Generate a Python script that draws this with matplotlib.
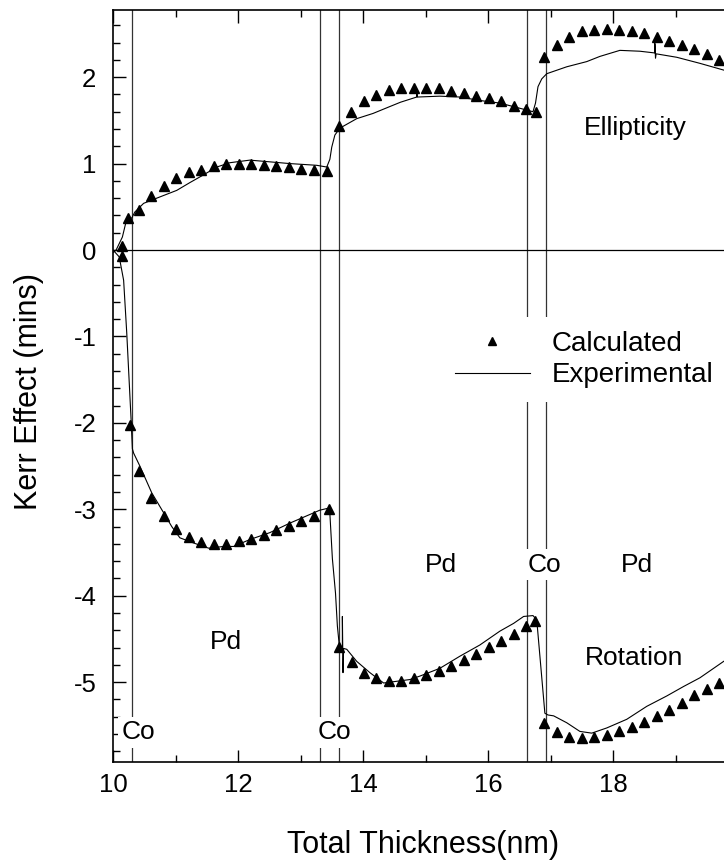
import numpy as np
import matplotlib.pyplot as plt
from matplotlib.ticker import MultipleLocator

plt.rcParams["font.family"] = ["Liberation Sans", "DejaVu Sans"]
plt.rcParams["axes.unicode_minus"] = False

# ===========================
# Data
# ===========================

# calculated ellipticity (triangles)
ell_calc_x = [10.14, 10.24, 10.41, 10.61, 10.81, 11.01, 11.21, 11.41, 11.61, 11.81,
              12.01, 12.21, 12.41, 12.61, 12.81, 13.01, 13.21, 13.43, 13.61, 13.81,
              14.01, 14.21, 14.41, 14.61, 14.81, 15.01, 15.21, 15.41, 15.61, 15.81,
              16.01, 16.21, 16.41, 16.61, 16.77, 16.90, 17.10, 17.30, 17.50, 17.70,
              17.90, 18.10, 18.30, 18.50, 18.70, 18.90, 19.10, 19.30, 19.50, 19.70]
ell_calc_y = [0.05, 0.37, 0.46, 0.62, 0.74, 0.83, 0.90, 0.93, 0.97, 0.99,
              0.99, 1.00, 0.98, 0.97, 0.96, 0.94, 0.92, 0.91, 1.43, 1.60,
              1.72, 1.79, 1.85, 1.87, 1.88, 1.87, 1.87, 1.84, 1.82, 1.78,
              1.76, 1.72, 1.67, 1.63, 1.60, 2.23, 2.37, 2.47, 2.53, 2.55,
              2.56, 2.55, 2.53, 2.51, 2.47, 2.42, 2.37, 2.32, 2.27, 2.20]

# experimental ellipticity (line)
ell_exp_x = [10.0, 10.05, 10.15, 10.22, 10.30, 10.35, 10.49, 10.70, 11.02, 11.23,
             11.45, 11.66, 11.87, 12.19, 12.51, 12.83, 13.26, 13.42, 13.47, 13.50,
             13.55, 13.63, 13.90, 14.16, 14.43, 14.60, 14.86, 14.86, 14.87, 15.23,
             15.55, 15.87, 16.19, 16.51, 16.72, 16.76, 16.80, 16.86, 16.94, 17.26,
             17.58, 17.79, 18.11, 18.43, 18.67, 18.67, 18.68, 18.69, 19.02, 19.39,
             19.78, 19.90]
ell_exp_y = [-0.03, 0.00, 0.15, 0.36, 0.37, 0.44, 0.54, 0.60, 0.69, 0.78,
             0.87, 0.96, 1.01, 1.04, 1.02, 1.00, 0.98, 0.96, 1.05, 1.19,
             1.33, 1.41, 1.52, 1.58, 1.66, 1.71, 1.77, 1.83, 1.77, 1.78,
             1.77, 1.73, 1.70, 1.64, 1.60, 1.70, 1.89, 1.98, 2.04, 2.12,
             2.18, 2.24, 2.31, 2.30, 2.28, 2.39, 2.22, 2.27, 2.23, 2.16,
             2.08, 2.05]

# calculated rotation (triangles)
rot_calc_x = [10.15, 10.27, 10.42, 10.61, 10.81, 11.01, 11.21, 11.41, 11.61, 11.81,
              12.01, 12.21, 12.41, 12.61, 12.81, 13.01, 13.21, 13.45, 13.61, 13.82,
              14.02, 14.21, 14.41, 14.61, 14.81, 15.01, 15.21, 15.41, 15.61, 15.81,
              16.01, 16.21, 16.41, 16.61, 16.75, 16.90, 17.10, 17.30, 17.50, 17.70,
              17.90, 18.10, 18.30, 18.50, 18.70, 18.90, 19.10, 19.30, 19.50, 19.70]
rot_calc_y = [-0.07, -2.02, -2.56, -2.87, -3.08, -3.23, -3.32, -3.38, -3.40, -3.40,
              -3.37, -3.34, -3.30, -3.24, -3.19, -3.13, -3.08, -3.00, -4.59, -4.77,
              -4.89, -4.95, -4.99, -4.99, -4.95, -4.92, -4.87, -4.81, -4.74, -4.67,
              -4.59, -4.52, -4.44, -4.35, -4.29, -5.47, -5.58, -5.64, -5.65, -5.64,
              -5.61, -5.57, -5.52, -5.46, -5.39, -5.32, -5.24, -5.15, -5.08, -5.01]

# experimental rotation (line)
rot_exp_x = [10.0, 10.10, 10.17, 10.22, 10.29, 10.31, 10.33, 10.43, 10.62, 10.81,
             10.94, 11.07, 11.29, 11.53, 11.77, 11.93, 12.19, 12.51, 12.83, 13.15,
             13.31, 13.43, 13.47, 13.51, 13.56, 13.59, 13.62, 13.67, 13.67, 13.68,
             13.69, 13.74, 13.90, 14.11, 14.33, 14.54, 14.75, 14.91, 15.23, 15.55,
             15.87, 16.19, 16.41, 16.57, 16.72, 16.78, 16.91, 16.96, 17.05, 17.26,
             17.47, 17.66, 17.90, 18.22, 18.54, 18.86, 19.13, 19.39, 19.77, 19.90]
rot_exp_y = [0.00, -0.08, -0.35, -0.96, -1.97, -2.30, -2.35, -2.50, -2.81, -3.04,
             -3.20, -3.33, -3.39, -3.45, -3.43, -3.43, -3.35, -3.27, -3.16, -3.06,
             -3.01, -2.99, -3.05, -3.57, -3.97, -4.35, -4.57, -4.60, -4.24, -4.89,
             -4.61, -4.62, -4.76, -4.89, -5.01, -4.99, -4.97, -4.93, -4.84, -4.70,
             -4.57, -4.41, -4.32, -4.24, -4.23, -4.28, -5.36, -5.38, -5.39, -5.47,
             -5.57, -5.59, -5.53, -5.43, -5.28, -5.16, -5.05, -4.95, -4.76, -4.70]

# layer boundaries (Co layers)
boundaries = [10.31, 13.31, 13.61, 16.62, 16.92]

# layer labels: (text, x, y)
layer_labels = [("Co", 10.41, -5.58), ("Co", 13.55, -5.58), ("Pd", 11.81, -4.54),
                ("Pd", 15.25, -3.64), ("Co", 16.91, -3.64), ("Pd", 18.39, -3.64)]

x_major = [10, 12, 14, 16, 18]


# ===========================
# Figure
# ===========================

W, H = 724, 867
fig = plt.figure(figsize=(W / 100, H / 100), dpi=100)
# axes runs past the right edge of the image (x = 20 is cut off)
ax = fig.add_axes([113 / W, 1 - 762 / H, 625 / W, 752 / H])

for xb in boundaries:
    ax.axvline(xb, color="#333333", lw=0.9, zorder=1)
ax.axhline(0, color="black", lw=0.9, zorder=1)

ax.plot(ell_exp_x, ell_exp_y, color="black", lw=0.8, zorder=2)
ax.plot(rot_exp_x, rot_exp_y, color="black", lw=0.8, zorder=2,
        label="Experimental")
ax.plot(ell_calc_x, ell_calc_y, ls="none", marker="^", ms=7,
        color="black", zorder=3)
ax.plot(rot_calc_x, rot_calc_y, ls="none", marker="^", ms=7,
        color="black", zorder=3, label="Calculated")

for txt, tx, ty in layer_labels:
    ax.text(tx, ty, txt, fontsize=19, ha="center", va="center", zorder=6,
            bbox=dict(facecolor="white", edgecolor="none", pad=2.5))

ax.text(18.35, 1.41, "Ellipticity", fontsize=19, ha="center", va="center")
ax.text(18.33, -4.72, "Rotation", fontsize=19, ha="center", va="center")

ax.set_xlim(10, 20)
ax.set_ylim(-5.924, 2.777)
ax.set_xticks(x_major)
ax.xaxis.set_minor_locator(MultipleLocator(1))
ax.yaxis.set_major_locator(MultipleLocator(1))
ax.yaxis.set_minor_locator(MultipleLocator(0.2))

ax.tick_params(which="both", direction="in", top=True, right=False, width=1.0)
ax.tick_params(which="major", length=9, labelsize=18.5)
ax.tick_params(which="minor", length=5)
ax.tick_params(axis="x", which="major", pad=8)
ax.tick_params(axis="y", which="major", pad=12)
for side in ["left", "bottom", "top"]:
    ax.spines[side].set_linewidth(1.2)
ax.spines["right"].set_visible(False)

handles, labels = ax.get_legend_handles_labels()
order = [labels.index("Calculated"), labels.index("Experimental")]
ax.legend([handles[i] for i in order], [labels[i] for i in order],
          loc="center", bbox_to_anchor=(584 / W, 1 - 359.5 / H),
          bbox_transform=fig.transFigure, fontsize=20, frameon=True,
          facecolor="white", edgecolor="none", framealpha=1.0, fancybox=False,
          handlelength=2.7, handletextpad=0.8, labelspacing=0.2,
          borderpad=0.5, markerscale=0.8)

fig.text(423 / W, 1 - 845 / H, "Total Thickness(nm)", fontsize=22,
         ha="center", va="center")
fig.text(29 / W, 1 - 392 / H, "Kerr Effect (mins)", fontsize=22,
         ha="center", va="center", rotation=90)

fig.savefig("out.png", dpi=100)
